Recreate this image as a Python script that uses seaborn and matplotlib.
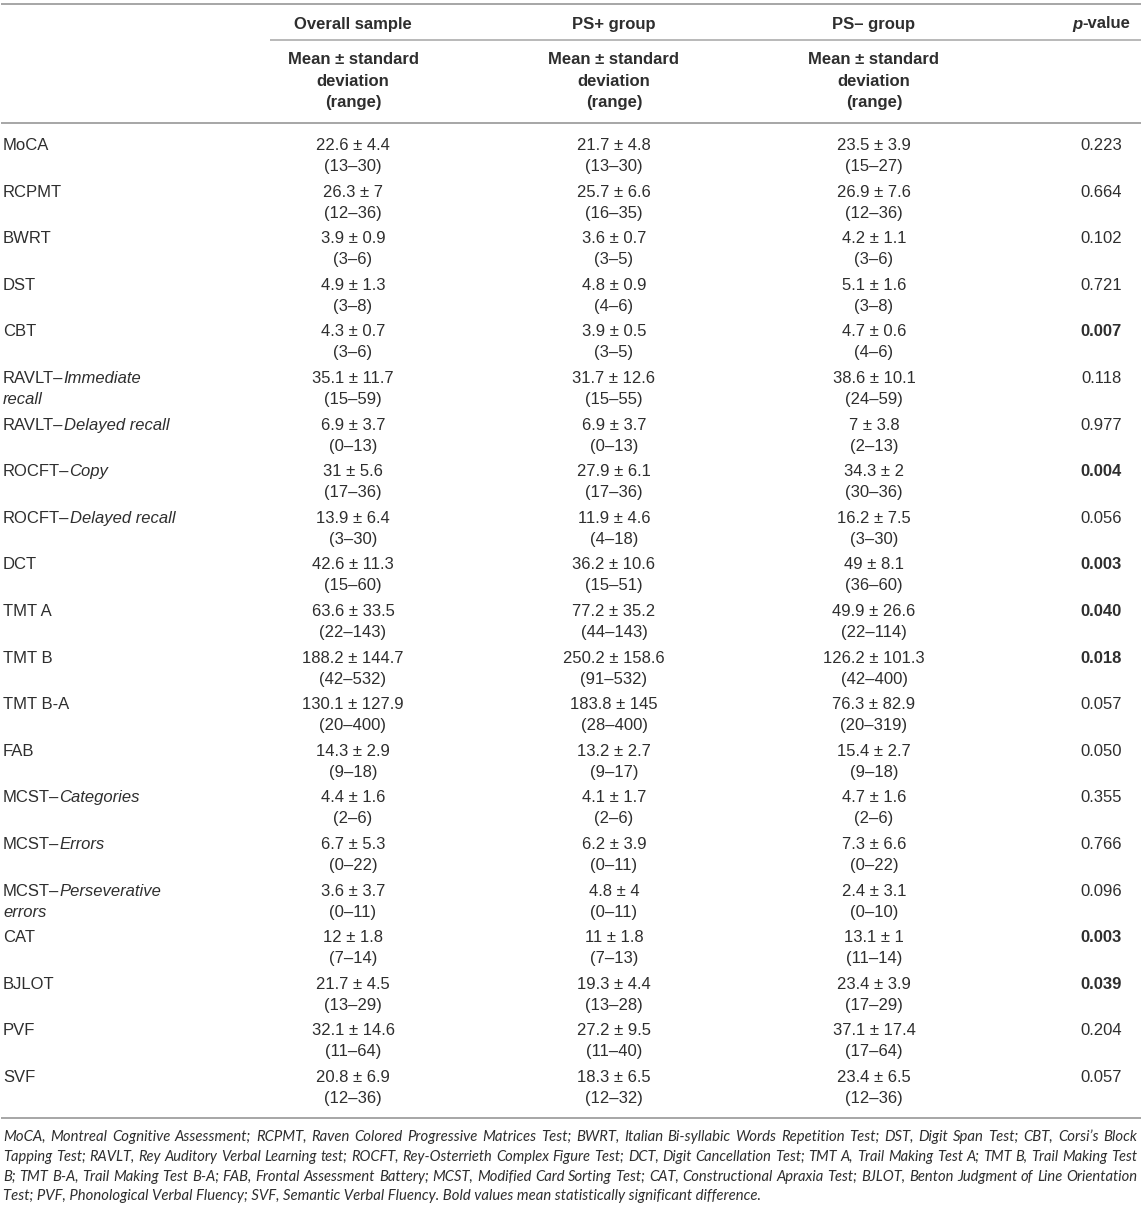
import matplotlib
matplotlib.use("Agg")
import matplotlib.pyplot as plt
from matplotlib import font_manager
from matplotlib.font_manager import FontProperties
import seaborn as sns
import pandas as pd

# ---------------- data ----------------
test_names = ["MoCA", "RCPMT", "BWRT", "DST", "CBT", "RAVLT–", "RAVLT–", "ROCFT–",
              "ROCFT–", "DCT", "TMT A", "TMT B", "TMT B-A", "FAB", "MCST–", "MCST–",
              "MCST–", "CAT", "BJLOT", "PVF", "SVF"]
test_italic = ["", "", "", "", "", "Immediate\nrecall", "Delayed recall", "Copy",
               "Delayed recall", "", "", "", "", "", "Categories", "Errors",
               "Perseverative\nerrors", "", "", "", ""]

overall_mean = [22.6, 26.3, 3.9, 4.9, 4.3, 35.1, 6.9, 31, 13.9, 42.6, 63.6, 188.2, 130.1,
                14.3, 4.4, 6.7, 3.6, 12, 21.7, 32.1, 20.8]
overall_sd = [4.4, 7, 0.9, 1.3, 0.7, 11.7, 3.7, 5.6, 6.4, 11.3, 33.5, 144.7, 127.9,
              2.9, 1.6, 5.3, 3.7, 1.8, 4.5, 14.6, 6.9]
overall_min = [13, 12, 3, 3, 3, 15, 0, 17, 3, 15, 22, 42, 20, 9, 2, 0, 0, 7, 13, 11, 12]
overall_max = [30, 36, 6, 8, 6, 59, 13, 36, 30, 60, 143, 532, 400, 18, 6, 22, 11, 14, 29, 64, 36]

psp_mean = [21.7, 25.7, 3.6, 4.8, 3.9, 31.7, 6.9, 27.9, 11.9, 36.2, 77.2, 250.2, 183.8,
            13.2, 4.1, 6.2, 4.8, 11, 19.3, 27.2, 18.3]
psp_sd = [4.8, 6.6, 0.7, 0.9, 0.5, 12.6, 3.7, 6.1, 4.6, 10.6, 35.2, 158.6, 145,
          2.7, 1.7, 3.9, 4, 1.8, 4.4, 9.5, 6.5]
psp_min = [13, 16, 3, 4, 3, 15, 0, 17, 4, 15, 44, 91, 28, 9, 2, 0, 0, 7, 13, 11, 12]
psp_max = [30, 35, 5, 6, 5, 55, 13, 36, 18, 51, 143, 532, 400, 17, 6, 11, 11, 13, 28, 40, 32]

psm_mean = [23.5, 26.9, 4.2, 5.1, 4.7, 38.6, 7, 34.3, 16.2, 49, 49.9, 126.2, 76.3,
            15.4, 4.7, 7.3, 2.4, 13.1, 23.4, 37.1, 23.4]
psm_sd = [3.9, 7.6, 1.1, 1.6, 0.6, 10.1, 3.8, 2, 7.5, 8.1, 26.6, 101.3, 82.9,
          2.7, 1.6, 6.6, 3.1, 1, 3.9, 17.4, 6.5]
psm_min = [15, 12, 3, 3, 4, 24, 2, 30, 3, 36, 22, 42, 20, 9, 2, 0, 0, 11, 17, 17, 12]
psm_max = [27, 36, 6, 8, 6, 59, 13, 36, 30, 60, 114, 400, 319, 18, 6, 22, 10, 14, 29, 64, 36]

p_values = [0.223, 0.664, 0.102, 0.721, 0.007, 0.118, 0.977, 0.004, 0.056, 0.003, 0.040,
            0.018, 0.057, 0.050, 0.355, 0.766, 0.096, 0.003, 0.039, 0.204, 0.057]

group_headers = ["Overall sample", "PS+ group", "PS– group"]
sub_header = ["Mean ± standard", "deviation", "(range)"]

footnote = ("MoCA, Montreal Cognitive Assessment; RCPMT, Raven Colored Progressive Matrices Test; "
            "BWRT, Italian Bi-syllabic Words Repetition Test; DST, Digit Span Test; CBT, Corsi’s Block|"
            "Tapping Test; RAVLT, Rey Auditory Verbal Learning test; ROCFT, Rey-Osterrieth Complex Figure Test; "
            "DCT, Digit Cancellation Test; TMT A, Trail Making Test A; TMT B, Trail Making Test|"
            "B; TMT B-A, Trail Making Test B-A; FAB, Frontal Assessment Battery; MCST, Modified Card Sorting Test; "
            "CAT, Constructional Apraxia Test; BJLOT, Benton Judgment of Line Orientation|"
            "Test; PVF, Phonological Verbal Fluency; SVF, Semantic Verbal Fluency. "
            "Bold values mean statistically significant difference.")


def fmt(m, s, lo, hi):
    return f"{m:g} ± {s:g}", f"({lo:g}–{hi:g})"


df = pd.DataFrame({
    "name": test_names, "ital": test_italic,
    "overall": [fmt(*v) for v in zip(overall_mean, overall_sd, overall_min, overall_max)],
    "psp": [fmt(*v) for v in zip(psp_mean, psp_sd, psp_min, psp_max)],
    "psm": [fmt(*v) for v in zip(psm_mean, psm_sd, psm_min, psm_max)],
    "p": p_values,
})

# ---------------- style ----------------
sns.set_theme(style="white")
plt.rcParams['font.family'] = ['Liberation Sans', 'DejaVu Sans']

TXT = "#2e2e2e"
RULE = "#a6a6a6"
FS = 12

fig = plt.figure(figsize=(11.45, 12.06), dpi=100)
ax = fig.add_axes([0, 0, 1, 1])
ax.set_xlim(0, 1145)
ax.set_ylim(1206, 0)
ax.axis("off")

col_x = [353, 614, 874]
p_right = 1122
label_x = 3

# rules
ax.hlines(4, 1, 1141, color=RULE, lw=1.4)
ax.hlines(39.5, 270, 1141, color=RULE, lw=1.1)
ax.hlines(122.5, 1, 1141, color=RULE, lw=1.4)
ax.hlines(1117.5, 1, 1141, color=RULE, lw=1.4)

# headers
for x, h in zip(col_x, group_headers):
    ax.text(x, 28.5, h, ha="center", va="baseline", fontsize=FS, fontweight="bold", color=TXT)
tv = ax.text(1130, 28.5, "-value", ha="right", va="baseline", fontsize=FS, fontweight="bold", color=TXT)
ax.annotate("p", xy=(0, 0), xycoords=tv, ha="right", va="bottom", fontsize=FS,
            fontweight="bold", fontstyle="italic", color=TXT)
for x in col_x:
    for k, s in enumerate(sub_header):
        ax.text(x, 64.5 + 21.2 * k, s, ha="center", va="baseline", fontsize=FS,
                fontweight="bold", color=TXT)

# body
y0, pitch, dy = 150, 46.6, 21
for i, r in df.iterrows():
    y = y0 + i * pitch
    t = ax.text(label_x, y, r["name"], ha="left", va="baseline", fontsize=FS, color=TXT)
    if r["ital"]:
        parts = r["ital"].split("\n")
        ax.annotate(parts[0], xy=(1, 0), xycoords=t, ha="left", va="bottom", fontsize=FS,
                    fontstyle="italic", color=TXT)
        if len(parts) > 1:
            ax.text(label_x, y + dy, parts[1], ha="left", va="baseline", fontsize=FS,
                    fontstyle="italic", color=TXT)
    for x, key in zip(col_x, ["overall", "psp", "psm"]):
        a, b = r[key]
        ax.text(x, y, a, ha="center", va="baseline", fontsize=FS, color=TXT)
        ax.text(x, y + dy, b, ha="center", va="baseline", fontsize=FS, color=TXT)
    ax.text(p_right, y, f"{r['p']:.3f}", ha="right", va="baseline", fontsize=FS, color=TXT,
            fontweight="bold" if r["p"] < 0.05 else "normal")

# ---------------- footnote ----------------
lines = footnote.split("|")
fig.canvas.draw()
renderer = fig.canvas.get_renderer()


def width_of(s, prop, size):
    t = ax.text(0, 0, s, fontproperties=prop, fontsize=size)
    w = t.get_window_extent(renderer).width
    t.remove()
    return w


target = 1134
fn_prop = None
for f in font_manager.fontManager.ttflist:
    if f.fname.endswith("Lato-Italic.ttf"):
        fn_prop = FontProperties(fname=f.fname)
        break
if fn_prop is None:
    fn_prop = FontProperties(family=["Lato", "Liberation Sans"], style="italic")

FN_SIZE = 10.75
fy = [1141, 1160.8, 1180.6, 1200.4]
for k, line in enumerate(lines):
    if k < 3:
        lw_ = width_of(line, fn_prop, FN_SIZE)
        s = FN_SIZE * min(1.0, target / lw_ * 0.995)
        words = line.split(" ")
        ws = [width_of(w, fn_prop, s) for w in words]
        gap = (target - sum(ws)) / (len(words) - 1)
        x = 3
        for w, wd in zip(words, ws):
            ax.text(x, fy[k], w, ha="left", va="baseline", fontproperties=fn_prop,
                    fontsize=s, color=TXT)
            x += wd + gap
    else:
        ax.text(3, fy[k], line, ha="left", va="baseline", fontproperties=fn_prop,
                fontsize=FN_SIZE, color=TXT)

fig.savefig("out.png", dpi=100)
